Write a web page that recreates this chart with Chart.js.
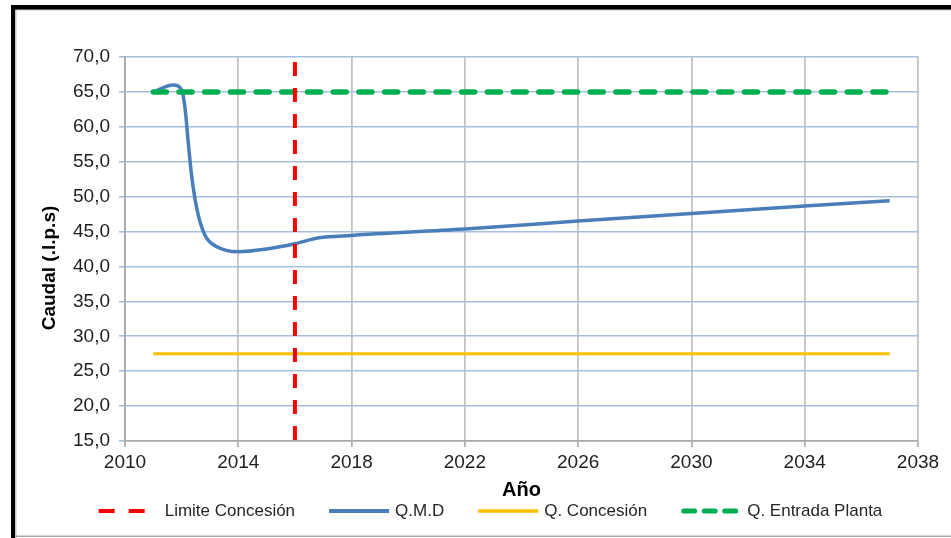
<!DOCTYPE html>
<html>
<head>
<meta charset="utf-8">
<title>Caudal</title>
<script src="https://cdn.jsdelivr.net/npm/chart.js@4.4.0/dist/chart.umd.min.js"></script>
<style>
  html, body { margin: 0; padding: 0; background: #ffffff; }
  #wrap { width: 951px; height: 538px; position: relative; }
</style>
</head>
<body>
<div id="wrap"><canvas id="c" width="951" height="538"></canvas></div>
<script>
// ---- data ----
const xTickValues = [2010, 2014, 2018, 2022, 2026, 2030, 2034, 2038];
const yTickValues = [15, 20, 25, 30, 35, 40, 45, 50, 55, 60, 65, 70];

const seriesNames = ['Limite Concesión', 'Q.M.D', 'Q. Concesión', 'Q. Entrada Planta'];
const axisTitleX = 'Año';
const axisTitleY = 'Caudal (.l.p.s)';

const limiteYears = [2016, 2016];
const limiteValues = [70, 15];

const qmdYears = [2011, 2011.7, 2012.0, 2012.12, 2012.23, 2012.35, 2012.53, 2012.82, 2013.23,
                  2014, 2015, 2016, 2016.85, 2018, 2022, 2026, 2030, 2034, 2037];
const qmdValues = [65.0, 66.0, 65.3, 62.7, 57.9, 53.1, 48.4, 44.5, 42.85,
                   42.1, 42.5, 43.25, 44.1, 44.45, 45.35, 46.5, 47.6, 48.65, 49.4];

const concesionYears = [2011, 2037];
const concesionValues = [27.5, 27.5];

const entradaYears = [2011, 2037];
const entradaValues = [65, 65];

// ---- styling ----
const FONT = '"Liberation Sans", Arial, Helvetica, sans-serif';
const RED = '#ff0000', BLUE = '#4a7ebb', ORANGE = '#ffc000', GREEN = '#00b050';

function toPoints(xs, ys) { return xs.map((x, i) => ({ x: x, y: ys[i] })); }

// white page with the dark frame around the chart
const framePlugin = {
  id: 'frame',
  beforeDraw(chart) {
    const ctx = chart.ctx;
    ctx.save();
    ctx.fillStyle = '#ffffff';
    ctx.fillRect(0, 0, chart.width, chart.height);
    ctx.fillStyle = '#c4c4c4';
    ctx.fillRect(15, 9, chart.width - 15, 1.5);
    ctx.fillRect(15, 9, 1.5, chart.height - 9);
    ctx.fillStyle = '#a9a9a9';
    ctx.fillRect(15, 535.5, chart.width - 15, 1.5);
    ctx.fillStyle = '#000000';
    ctx.fillRect(11, 5, chart.width - 11, 4.5);
    ctx.fillRect(11, 5, 4, chart.height - 5);
    ctx.restore();
  }
};

// vertical value-axis title, placed beside the tick labels
const yTitlePlugin = {
  id: 'yTitle',
  afterDraw(chart) {
    const ctx = chart.ctx;
    ctx.save();
    ctx.translate(49.5, 268);
    ctx.rotate(-Math.PI / 2);
    ctx.font = 'bold 19px ' + FONT;
    ctx.fillStyle = '#000000';
    ctx.textAlign = 'center';
    ctx.textBaseline = 'middle';
    ctx.fillText(axisTitleY, 0, 0);
    ctx.restore();
  }
};

// legend row under the axis title
const legendItems = [
  { text: seriesNames[0], color: RED, width: 4, dash: [16, 14], cap: 'butt' },
  { text: seriesNames[1], color: BLUE, width: 4, dash: [], cap: 'butt' },
  { text: seriesNames[2], color: ORANGE, width: 3.5, dash: [], cap: 'butt' },
  { text: seriesNames[3], color: GREEN, width: 5, dash: [11, 9.5], cap: 'round' }
];
const lineLegendPlugin = {
  id: 'lineLegend',
  afterDraw(chart) {
    const ctx = chart.ctx;
    const sample = 60, gap = 6, spacing = 34, cy = 511, cx = 490.5;
    ctx.save();
    ctx.font = '17px ' + FONT;
    const widths = legendItems.map(it => sample + gap + ctx.measureText(it.text).width);
    const total = widths.reduce((a, b) => a + b, 0) + spacing * (legendItems.length - 1);
    let x = cx - total / 2;
    legendItems.forEach((it, i) => {
      ctx.beginPath();
      ctx.strokeStyle = it.color;
      ctx.lineWidth = it.width;
      ctx.lineCap = it.cap;
      ctx.setLineDash(it.dash);
      ctx.moveTo(x + (it.cap === 'round' ? 2.5 : 0), cy);
      ctx.lineTo(x + sample, cy);
      ctx.stroke();
      ctx.setLineDash([]);
      ctx.fillStyle = '#262626';
      ctx.textAlign = 'left';
      ctx.textBaseline = 'middle';
      ctx.fillText(it.text, x + sample + gap, cy);
      x += widths[i] + spacing;
    });
    ctx.restore();
  }
};

const datasets = [
  {
    label: seriesNames[0],
    data: toPoints(limiteYears, limiteValues),
    borderColor: RED, backgroundColor: RED,
    borderWidth: 4, borderDash: [14, 12], borderDashOffset: -5,
    pointRadius: 0, showLine: true
  },
  {
    label: seriesNames[3],
    data: toPoints(entradaYears, entradaValues),
    borderColor: GREEN, backgroundColor: GREEN,
    borderWidth: 5.5, borderDash: [13, 12.7], borderCapStyle: 'round',
    pointRadius: 0, showLine: true
  },
  {
    label: seriesNames[1],
    data: toPoints(qmdYears, qmdValues),
    borderColor: BLUE, backgroundColor: BLUE,
    borderWidth: 3.5, cubicInterpolationMode: 'monotone',
    pointRadius: 0, showLine: true
  },
  {
    label: seriesNames[2],
    data: toPoints(concesionYears, concesionValues),
    borderColor: ORANGE, backgroundColor: ORANGE,
    borderWidth: 3,
    pointRadius: 0, showLine: true
  }
];

new Chart(document.getElementById('c'), {
  type: 'scatter',
  data: { datasets: datasets },
  plugins: [framePlugin, yTitlePlugin, lineLegendPlugin],
  options: {
    responsive: false,
    animation: false,
    events: [],
    layout: { padding: { left: 0, right: 33, top: 57, bottom: 0 } },
    plugins: { legend: { display: false }, tooltip: { enabled: false } },
    scales: {
      x: {
        type: 'linear',
        min: 2010, max: 2038,
        afterBuildTicks(scale) { scale.ticks = xTickValues.map(v => ({ value: v })); },
        afterFit(scale) { scale.height = 97; },
        grid: { color: '#c3c3c3', lineWidth: 1.8, tickLength: 6, tickColor: '#b0b0b0' },
        border: { color: '#a8a8a8', width: 1.8 },
        ticks: {
          padding: 4,
          color: '#1f1f1f',
          font: { family: FONT, size: 19 },
          maxRotation: 0,
          callback: v => String(v)
        },
        title: {
          display: true,
          text: axisTitleX,
          color: '#000000',
          font: { family: FONT, size: 20, weight: 'bold' },
          padding: { top: 0, bottom: 36 }
        }
      },
      y: {
        type: 'linear',
        min: 15, max: 70,
        afterBuildTicks(scale) { scale.ticks = yTickValues.map(v => ({ value: v })); },
        afterFit(scale) { scale.width = 125; },
        grid: {
          color: ctx => (ctx.tick && ctx.tick.value === 15) ? 'rgba(0,0,0,0)' : '#a7bfdf',
          lineWidth: 1.6, tickLength: 6, tickColor: '#a7bfdf'
        },
        border: { color: '#a8a8a8', width: 1.8 },
        ticks: {
          padding: 9,
          color: '#1f1f1f',
          font: { family: FONT, size: 19 },
          callback: v => Number(v).toFixed(1).replace('.', ',')
        },
        title: { display: false }
      }
    }
  }
});
</script>
</body>
</html>
